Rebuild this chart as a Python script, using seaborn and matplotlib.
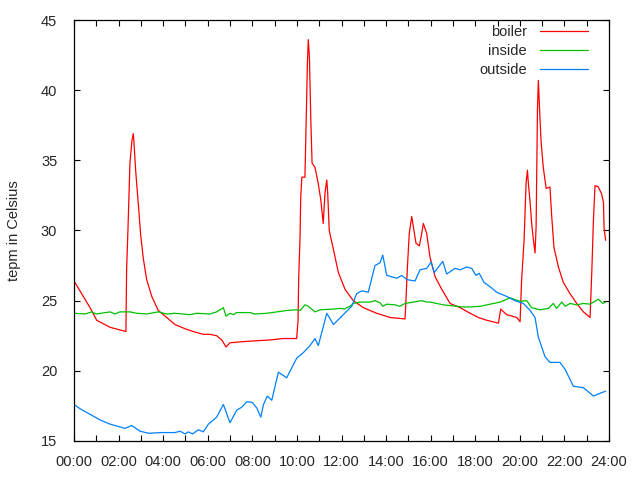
import pandas as pd
import matplotlib.pyplot as plt
import seaborn as sns

# hours since midnight, temperature in Celsius
boiler_h = [0.0, 0.04, 0.72, 1.02, 1.62, 2.33, 2.36, 2.42, 2.51, 2.60, 2.66, 2.69, 2.77, 2.88, 2.99,
            3.11, 3.26, 3.49, 3.78, 4.16, 4.53, 4.98, 5.35, 5.80, 6.10, 6.40, 6.63, 6.82, 7.00, 7.75,
            8.79, 9.38, 9.99, 10.05, 10.08, 10.14, 10.17, 10.22, 10.36, 10.41, 10.47, 10.51, 10.56,
            10.62, 10.68, 10.81, 10.95, 11.07, 11.18, 11.26, 11.34, 11.38, 11.45, 11.63, 11.86, 12.16,
            12.53, 12.98, 13.58, 14.18, 14.85, 14.89, 14.95, 15.04, 15.15, 15.22, 15.34, 15.49, 15.60,
            15.67, 15.82, 15.97, 16.20, 16.50, 16.87, 17.32, 17.77, 18.14, 18.52, 19.04, 19.14, 19.41,
            19.64, 19.86, 20.01, 20.08, 20.19, 20.28, 20.34, 20.38, 20.46, 20.53, 20.61, 20.68, 20.73,
            20.79, 20.83, 20.88, 20.95, 21.05, 21.18, 21.35, 21.43, 21.53, 21.73, 21.95, 22.25, 22.55,
            22.85, 23.15, 23.23, 23.30, 23.37, 23.52, 23.67, 23.75, 23.78, 23.85]
boiler_t = [26.5, 26.3, 24.5, 23.6, 23.1, 22.8, 27.2, 30.0, 34.8, 36.4, 36.9, 36.3, 34.2, 32.0, 29.7,
            28.0, 26.5, 25.3, 24.3, 23.8, 23.3, 23.0, 22.8, 22.6, 22.6, 22.5, 22.2, 21.7, 22.0, 22.1,
            22.2, 22.3, 22.3, 23.6, 26.6, 29.5, 32.3, 33.8, 33.8, 37.4, 41.9, 43.6, 42.4,
            38.1, 34.8, 34.5, 33.4, 32.2, 30.5, 32.7, 33.6, 32.7, 30.0, 28.7, 27.0, 25.8,
            25.0, 24.5, 24.1, 23.8, 23.7, 25.0, 27.2, 29.8, 31.0, 30.3, 29.1, 28.9, 29.8,
            30.5, 29.8, 28.1, 26.7, 25.8, 24.8, 24.5, 24.1, 23.8, 23.6, 23.4, 24.4, 24.0,
            23.9, 23.8, 23.5, 26.5, 29.3, 33.4, 34.3, 33.4, 32.0, 30.5, 29.3, 28.4, 30.3,
            38.6, 40.7, 38.8, 36.4, 34.5, 33.0, 33.1, 31.0, 28.8, 27.4, 26.3, 25.5, 24.8,
            24.2, 23.8, 27.2, 30.7, 33.2, 33.1, 32.6, 32.0, 30.1, 29.3]

inside_h = [0.0, 0.5, 0.79, 1.0, 1.62, 1.84, 2.06, 2.51, 2.81, 3.26, 3.78, 4.16, 4.53, 5.2, 5.5, 6.1,
            6.4, 6.7, 6.82, 7.0, 7.15, 7.3, 7.9, 8.1, 8.65, 9.55, 9.99, 10.14, 10.36, 10.51, 10.81,
            11.04, 11.63, 11.93, 12.12, 12.38, 12.53, 12.83, 13.28, 13.5, 13.73, 13.85, 14.03, 14.4,
            14.62, 14.85, 15.22, 15.6, 15.82, 15.97, 16.57, 17.17, 17.47, 17.77, 18.22, 19.12, 19.56,
            20.01, 20.31, 20.53, 20.9, 21.28, 21.5, 21.65, 21.88, 22.03, 22.25, 22.55, 22.85, 23.15,
            23.52, 23.72, 23.85]
inside_t = [24.1, 24.05, 24.2, 24.05, 24.2, 24.05, 24.2, 24.2, 24.1, 24.05, 24.2, 24.05, 24.1, 24.0, 24.1, 24.05,
            24.2, 24.5, 23.9, 24.1, 24.0, 24.15, 24.15, 24.05, 24.1, 24.3, 24.35, 24.3, 24.7, 24.6, 24.2,
            24.35, 24.4, 24.45, 24.4, 24.6, 24.8, 24.9, 24.9, 25.0, 24.85, 24.6, 24.75, 24.7,
            24.6, 24.8, 24.9, 25.0, 24.9, 24.9, 24.7, 24.6, 24.55, 24.55, 24.6, 24.9, 25.2,
            24.95, 25.0, 24.5, 24.35, 24.45, 24.8, 24.45, 24.9, 24.6, 24.8, 24.7, 24.8, 24.75,
            25.1, 24.8, 24.9]

outside_h = [0.0, 0.27, 0.72, 1.17, 1.62, 2.29, 2.59, 2.96, 3.34, 3.94, 4.53, 4.76, 4.98, 5.13, 5.32,
             5.58, 5.8, 6.03, 6.4, 6.7, 7.0, 7.3, 7.52, 7.75, 8.0, 8.2, 8.38, 8.5, 8.67, 8.87, 9.17,
             9.54, 9.99, 10.29, 10.59, 10.81, 10.96, 11.34, 11.64, 12.08, 12.46, 12.68, 12.91, 13.2,
             13.5, 13.73, 13.85, 14.03, 14.25, 14.48, 14.7, 14.93, 15.3, 15.52, 15.82, 16.02, 16.16,
             16.54, 16.72, 17.09, 17.32, 17.62, 17.84, 18.03, 18.18, 18.39, 18.66, 18.96, 19.41, 19.78,
             20.16, 20.46, 20.68, 20.83, 21.13, 21.35, 21.8, 22.03, 22.4, 22.85, 23.3, 23.6, 23.85]
outside_t = [17.6, 17.3, 16.9, 16.5, 16.2, 15.9, 16.1, 15.7, 15.55, 15.6, 15.6, 15.7, 15.5, 15.65, 15.5,
             15.8, 15.65, 16.2, 16.7, 17.6, 16.3, 17.2, 17.4, 17.8, 17.75, 17.35, 16.7, 17.6, 18.2, 17.9, 19.9,
             19.5, 20.9, 21.3, 21.8, 22.3, 21.8, 24.1, 23.3, 24.0, 24.6, 25.5, 25.7, 25.6,
             27.5, 27.7, 28.25, 26.8, 26.7, 26.6, 26.8, 26.5, 26.4, 27.2, 27.3, 27.75, 27.0,
             27.8, 26.9, 27.3, 27.2, 27.4, 27.3, 26.8, 26.95, 26.3, 26.0, 25.6, 25.3, 25.0,
             24.8, 24.3, 23.8, 22.4, 21.0, 20.6, 20.6, 20.1, 18.9, 18.8, 18.2, 18.4, 18.55]

tick_hours = list(range(0, 25, 2))
tick_labels = ['%02d:00' % h for h in tick_hours]

sns.set_style('ticks')
plt.rcParams['font.family'] = ['Liberation Sans', 'DejaVu Sans']
plt.rcParams['xtick.direction'] = 'in'
plt.rcParams['ytick.direction'] = 'in'

fig = plt.figure(figsize=(6.4, 4.8), dpi=100)
ax = fig.add_axes([0.1156, 0.0813, 0.836, 0.877])

boiler = pd.DataFrame({'h': boiler_h, 't': boiler_t})
inside = pd.DataFrame({'h': inside_h, 't': inside_t})
outside = pd.DataFrame({'h': outside_h, 't': outside_t})

sns.lineplot(x='h', y='t', data=boiler, ax=ax, color='#ff0000', lw=0.9, label='boiler', estimator=None)
sns.lineplot(x='h', y='t', data=inside, ax=ax, color='#00c000', lw=0.9, label='inside', estimator=None)
sns.lineplot(x='h', y='t', data=outside, ax=ax, color='#0080ff', lw=0.9, label='outside', estimator=None)

ax.set_xlim(0, 24)
ax.set_ylim(15, 45)
ax.set_xticks(tick_hours)
ax.set_xticklabels(tick_labels)
ax.set_xticks(range(0, 25), minor=True)
ax.set_yticks(range(15, 46, 5))
ax.tick_params(which='both', top=True, right=True, labelsize=10.5, length=4, width=0.8, color='black')
ax.tick_params(axis='y', pad=12)
ax.tick_params(axis='x', pad=10)
for s in ax.spines.values():
    s.set_linewidth(0.9)
    s.set_color('black')

ax.set_xlabel('')
ax.set_ylabel('tepm in Celsius', fontsize=10.5, labelpad=14)

ax.legend(loc='upper right', frameon=False, markerfirst=False, fontsize=10.5, handlelength=3.3,
          handletextpad=0.9, labelspacing=0.35, borderaxespad=0.3, bbox_to_anchor=(0.98, 1.012))

fig.savefig('out.png', dpi=100)
